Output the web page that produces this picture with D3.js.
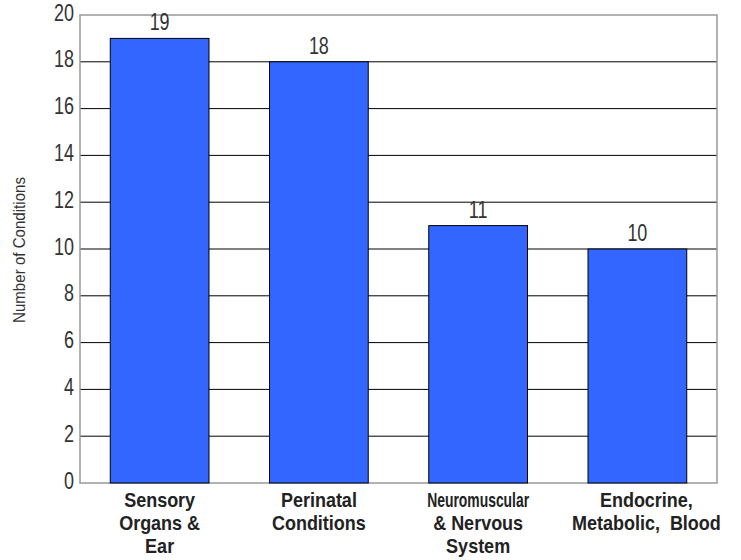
<!DOCTYPE html>
<html><head><meta charset="utf-8">
<script src="https://cdn.jsdelivr.net/npm/d3@7"></script>
<style>body{margin:0;background:#fff}</style>
</head><body>
<svg id="c" width="741" height="560"></svg>
<script>
const categories = [["Sensory","Organs &","Ear"],["Perinatal","Conditions"],["Neuromuscular","& Nervous","System"],["Endocrine,","Metabolic,  Blood"]];
const values = [19, 18, 11, 10];
const yTicks = [0,2,4,6,8,10,12,14,16,18,20];

const svg = d3.select("#c");
const L=80,R=717,T=15,B=483;
const x = d3.scaleBand().domain(d3.range(values.length)).range([L,R]).paddingInner(0.38).paddingOuter(0.19);
const y = d3.scaleLinear().domain([0,20]).range([B,T]);
const thin = "'Liberation Sans',Arial,sans-serif";
function squeeze(sel,f){sel.each(function(){const l=this.getComputedTextLength();d3.select(this).attr("textLength",l*f).attr("lengthAdjust","spacingAndGlyphs");});}

svg.append("g").selectAll("line").data(yTicks.filter(d=>d>0&&d<20)).join("line")
  .attr("x1",L).attr("x2",R).attr("y1",d=>y(d)).attr("y2",d=>y(d))
  .attr("stroke","#000").attr("stroke-width",1);
svg.append("rect").attr("x",L).attr("y",T).attr("width",R-L).attr("height",B-T)
  .attr("fill","none").attr("stroke","#999").attr("stroke-width",1.5);

svg.append("g").selectAll("rect").data(values).join("rect")
  .attr("x",(d,i)=>x(i)).attr("width",x.bandwidth())
  .attr("y",d=>y(d)).attr("height",d=>B-y(d))
  .attr("fill","#3366FF").attr("stroke","#000").attr("stroke-width",1);

const vl = svg.append("g").selectAll("text").data(values).join("text")
  .attr("x",(d,i)=>x(i)+x.bandwidth()/2).attr("y",d=>y(d)-8)
  .attr("text-anchor","middle").attr("font-family",thin).attr("font-size",23)
  .attr("fill","#333").text(d=>d);
squeeze(vl,0.78);

const ya = svg.append("g").attr("transform",`translate(${L},0)`)
  .call(d3.axisLeft(y).tickValues(yTicks).tickSize(0).tickPadding(6));
ya.select(".domain").remove();
const yt = ya.selectAll("text").attr("font-family",thin).attr("font-size",23).attr("fill","#333").attr("dy","0.22em");
squeeze(yt,0.78);

const xg = svg.append("g").attr("font-family","'Liberation Sans',Arial,sans-serif")
  .attr("font-weight","bold").attr("font-size",20).attr("fill","#222");
categories.forEach((lines,i)=>{
  const cx = x(i)+x.bandwidth()/2 + (i===categories.length-1?9:0);
  lines.forEach((s,j)=>{
    const t = xg.append("text").attr("text-anchor","middle").style("white-space","pre")
      .attr("transform",`translate(${cx},${B+24+23*j})`).text(s);
    const l = t.node().getComputedTextLength();
    const target = s==="Neuromuscular" ? 102 : l*0.9;
    t.attr("transform",`translate(${cx},${B+24+23*j}) scale(${target/l},1)`);
  });
});

svg.append("text").attr("transform",`translate(25,250) rotate(-90)`)
  .attr("text-anchor","middle").attr("font-family",thin).attr("font-size",17)
  .attr("fill","#333").attr("textLength",146).attr("lengthAdjust","spacingAndGlyphs")
  .text("Number of Conditions");
</script>
</body></html>
